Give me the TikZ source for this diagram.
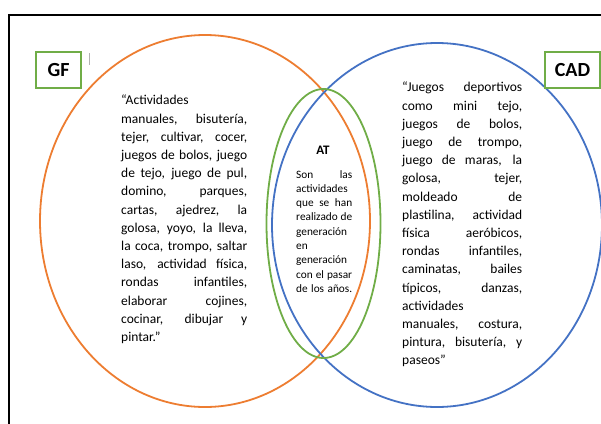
\documentclass[tikz,border=0pt]{standalone}
\usepackage{fontspec}
\setmainfont{Carlito}
\usepackage{tikz}
\usetikzlibrary{positioning}

\definecolor{setorange}{HTML}{ED7D31}
\definecolor{setblue}{HTML}{4472C4}
\definecolor{setgreen}{HTML}{70AD47}

% one justified line of a text block
\newcommand{\fullline}[1]{{\spaceskip=0pt\xspaceskip=0pt\makebox[\linewidth][s]{#1}}}

\begin{document}
\begin{tikzpicture}[x=1pt, y=-1pt,
    tagbox/.style={draw=setgreen, line width=2pt, fill=white, inner sep=0pt,
                   minimum width=45pt, minimum height=36pt,
                   font=\fontsize{20}{24}\selectfont\bfseries},
    settext/.style={anchor=north west, inner sep=0pt, align=left,
                    font=\fontsize{13.5}{18.2}\selectfont},
    midtext/.style={anchor=north west, inner sep=0pt, align=left, text width=56pt,
                    font=\fontsize{11.3}{14.3}\selectfont}
]
    \useasboundingbox (0,0) rectangle (601,423);

    % Frame
    \draw[line width=2pt] (9,440) -- (9,15) -- (620,15);

    % The three sets
    \draw[setorange, line width=1.8pt] (205,221) ellipse (165pt and 186pt);
    \draw[setblue, line width=1.8pt] (437,225) ellipse (165pt and 182pt);
    \draw[setgreen, line width=1.8pt] (323.5,223.5) ellipse (57pt and 134.5pt);

    % Labels
    \node[tagbox] (gf) at (58.5,70) {GF};
    \node[tagbox, minimum width=55pt] (cad) at (572.5,70) {CAD};
    \draw[gray!60, line width=0.8pt] (89,53) -- (89,65);

    % Left set
    \node[settext, text width=126pt] (gftext) at (121,95) {%
        “Actividades\\
        \fullline{manuales, bisutería,}\\
        \fullline{tejer, cultivar, cocer,}\\
        \fullline{juegos de bolos, juego}\\
        \fullline{de tejo, juego de pul,}\\
        \fullline{domino, parques,}\\
        \fullline{cartas, ajedrez, la}\\
        \fullline{golosa, yoyo, la lleva,}\\
        \fullline{la coca, trompo, saltar}\\
        \fullline{laso, actividad física,}\\
        \fullline{rondas infantiles,}\\
        \fullline{elaborar cojines,}\\
        \fullline{cocinar, dibujar y}\\
        pintar.”};

    % Right set
    \node[settext, text width=120pt] (cadtext) at (402,82) {%
        \fullline{“Juegos deportivos}\\
        \fullline{como mini tejo,}\\
        \fullline{juegos de bolos,}\\
        \fullline{juego de trompo,}\\
        \fullline{juego de maras, la}\\
        \fullline{golosa, tejer,}\\
        \fullline{moldeado de}\\
        \fullline{plastilina, actividad}\\
        \fullline{física aeróbicos,}\\
        \fullline{rondas infantiles,}\\
        \fullline{caminatas, bailes}\\
        \fullline{típicos, danzas,}\\
        actividades\\
        \fullline{manuales, costura,}\\
        \fullline{pintura, bisutería, y}\\
        paseos”};

    % Intersection
    \node[font=\fontsize{13}{15}\selectfont\bfseries] (at) at (323,150) {AT};
    \node[midtext] (attext) at (296,170) {%
        \fullline{Son las}\\
        actividades\\
        \fullline{que se han}\\
        \fullline{realizado de}\\
        generación\\
        en\\
        generación\\
        \fullline{con el pasar}\\
        \fullline{de los años.}};
\end{tikzpicture}
\end{document}
